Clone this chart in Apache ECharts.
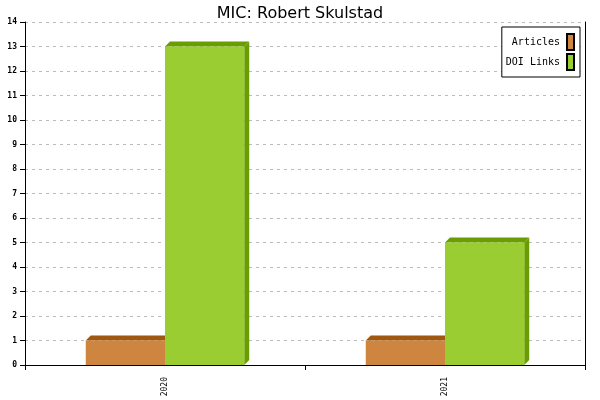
<!DOCTYPE html>
<html>
<head>
  <meta charset="UTF-8">
  <title>MIC: Robert Skulstad</title>
  <script src="https://cdn.jsdelivr.net/npm/echarts/dist/echarts.min.js"></script>
  <style>
    html, body { margin: 0; padding: 0; background: #fff; }
    #chart { width: 600px; height: 400px; }
  </style>
</head>
<body>
  <div id="chart"></div>
  <script>
    // data
    const categories = ['2020', '2021'];
    const articles = [1, 1];
    const doiLinks = [13, 5];
    const yTicks = [0, 14, 1]; // min, max, interval

    const depth = 5;

    // draws one 3D-ish box: front, top and right side
    function boxRenderer(side, front, dark) {
      return function (params, api) {
        const idx = api.value(0);
        const val = api.value(1);
        const band = api.size([1, 0])[0];
        const w = band * 0.283;
        const top = api.coord([idx, val]);
        const base = api.coord([idx, 0]);
        const x0 = side < 0 ? top[0] - w : top[0];
        const x1 = x0 + w;
        const y = top[1];
        const y0 = base[1];
        return {
          type: 'group',
          children: [
            {
              type: 'polygon',
              shape: { points: [[x1, y], [x1 + depth, y - depth], [x1 + depth, y0 - depth], [x1, y0]] },
              style: { fill: dark }
            },
            {
              type: 'polygon',
              shape: { points: [[x0, y], [x0 + depth, y - depth], [x1 + depth, y - depth], [x1, y]] },
              style: { fill: dark }
            },
            {
              type: 'rect',
              shape: { x: x0, y: y, width: w, height: y0 - y },
              style: { fill: front }
            }
          ]
        };
      };
    }

    const chart = echarts.init(document.getElementById('chart'));
    const mono = 'DejaVu Sans Mono';

    chart.setOption({
      animation: false,
      title: {
        text: 'MIC: Robert Skulstad',
        left: 'center',
        top: 1,
        textStyle: { fontFamily: 'DejaVu Sans', fontSize: 16, fontWeight: 'normal', color: '#000' }
      },
      legend: {
        right: 20,
        top: 27,
        orient: 'vertical',
        align: 'right',
        padding: [6, 5, 6, 4],
        itemGap: 2,
        itemWidth: 7,
        itemHeight: 16,
        icon: 'rect',
        borderColor: '#000',
        borderWidth: 1,
        backgroundColor: '#fff',
        textStyle: { fontFamily: mono, fontSize: 10, color: '#000', padding: [0, 2, 0, 0] },
        data: ['Articles', 'DOI Links']
      },
      grid: { left: 25, right: 15, top: 22, bottom: 35, containLabel: false },
      xAxis: {
        type: 'category',
        data: categories,
        boundaryGap: true,
        axisLine: { lineStyle: { color: '#000', width: 1 } },
        axisTick: { show: true, length: 5, lineStyle: { color: '#000' } },
        axisLabel: { rotate: 90, fontFamily: mono, fontSize: 8, color: '#000', margin: 12 },
        splitLine: { show: false }
      },
      yAxis: [
        {
          type: 'value',
          min: yTicks[0],
          max: yTicks[1],
          interval: yTicks[2],
          axisLine: { show: true, lineStyle: { color: '#000' } },
          axisTick: { show: true, length: 5, lineStyle: { color: '#000' } },
          axisLabel: { fontFamily: mono, fontSize: 8, fontWeight: 'bold', color: '#000', margin: 8 },
          splitLine: { show: true, lineStyle: { color: '#bbb', type: [3, 4] } }
        },
        {
          type: 'value',
          position: 'right',
          min: yTicks[0],
          max: yTicks[1],
          interval: yTicks[2],
          axisLine: { show: true, lineStyle: { color: '#000' } },
          axisTick: { show: false },
          axisLabel: { show: false },
          splitLine: { show: false }
        }
      ],
      series: [
        {
          name: 'Articles',
          type: 'custom',
          renderItem: boxRenderer(-1, '#CD853F', '#A0570F'),
          itemStyle: { color: '#CD853F', borderColor: '#000', borderWidth: 1 },
          encode: { x: 0, y: 1 },
          data: categories.map((c, i) => [i, articles[i]])
        },
        {
          name: 'DOI Links',
          type: 'custom',
          renderItem: boxRenderer(1, '#9ACD32', '#6A9E00'),
          itemStyle: { color: '#9ACD32', borderColor: '#000', borderWidth: 1 },
          encode: { x: 0, y: 1 },
          data: categories.map((c, i) => [i, doiLinks[i]])
        }
      ]
    });
  </script>
</body>
</html>
